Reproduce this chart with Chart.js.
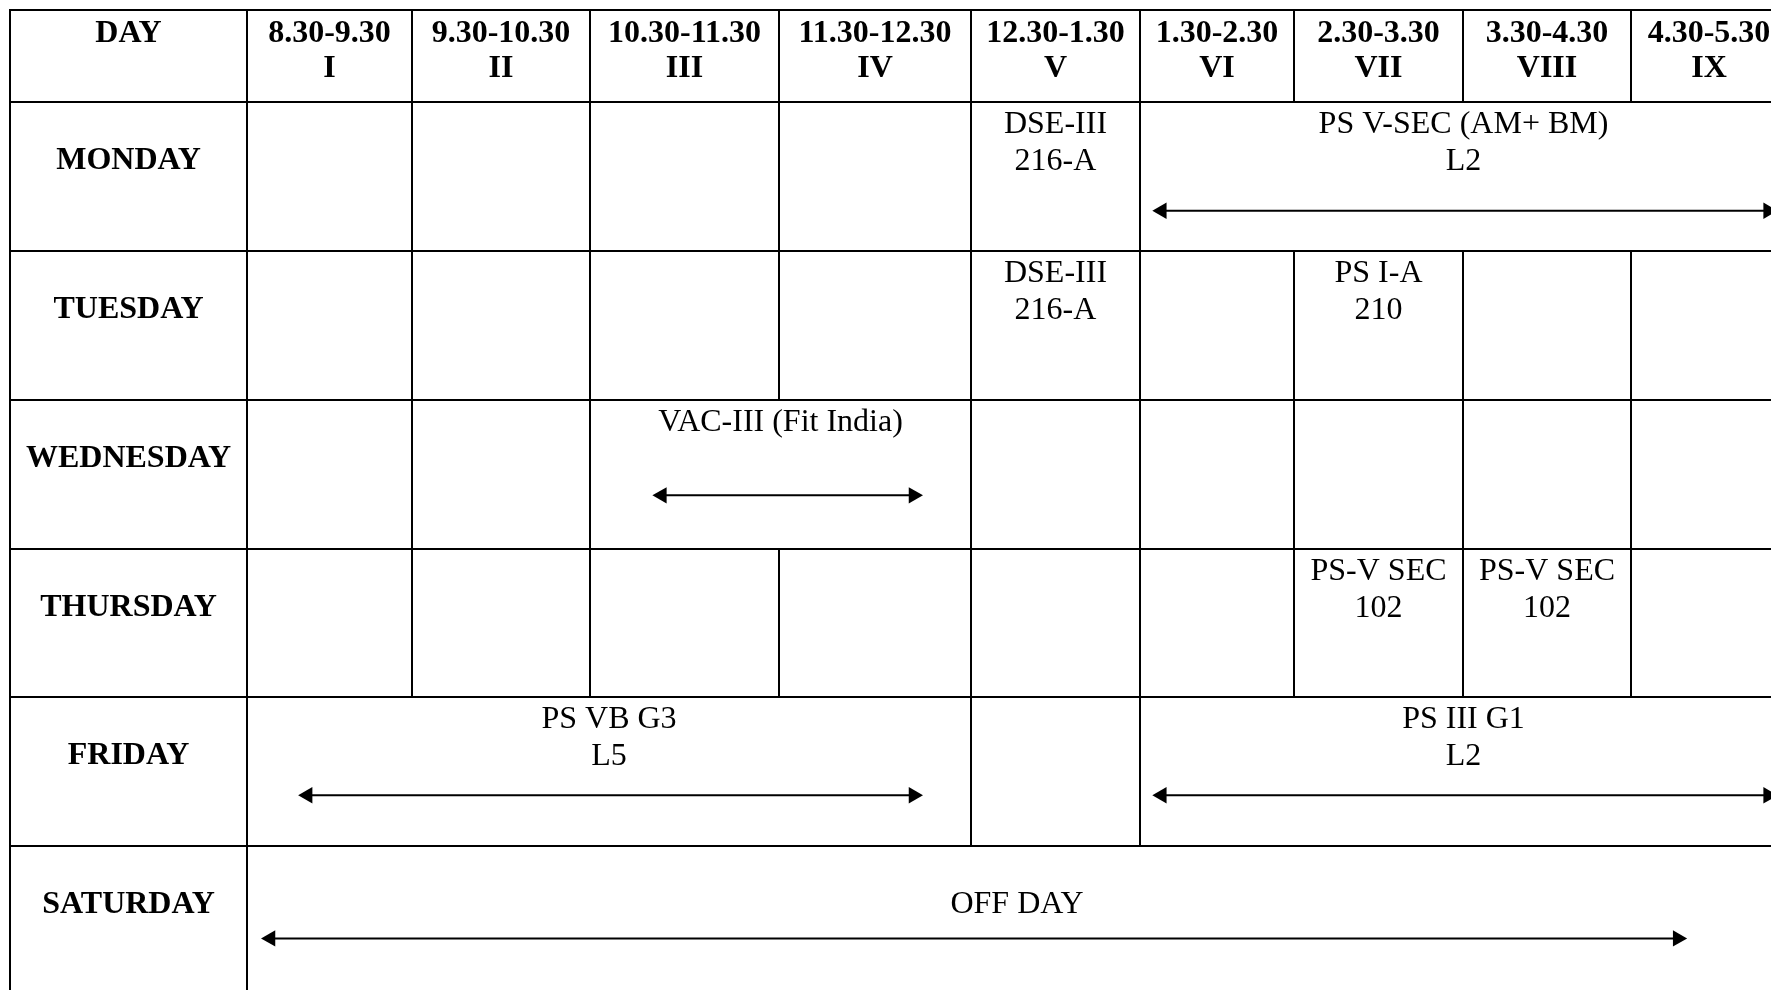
<!DOCTYPE html>
<html>
<head>
<meta charset="utf-8">
<title>Time Table</title>
<script src="https://cdn.jsdelivr.net/npm/chart.js@4.4.1/dist/chart.umd.min.js"></script>
<style>
    html, body { margin: 0; padding: 0; background: #fff; overflow: hidden; }
    #wrap { width: 1771px; height: 990px; }
</style>
</head>
<body>
<div id="wrap"><canvas id="timetable"></canvas></div>
<script>
// ---------- DATA ----------
const dayHeader = "DAY";
const days = ["MONDAY", "TUESDAY", "WEDNESDAY", "THURSDAY", "FRIDAY", "SATURDAY"];
const periodTimes = ["8.30-9.30", "9.30-10.30", "10.30-11.30", "11.30-12.30", "12.30-1.30",
                     "1.30-2.30", "2.30-3.30", "3.30-4.30", "4.30-5.30"];
const periodNumerals = ["I", "II", "III", "IV", "V", "VI", "VII", "VIII", "IX"];

// [day index, first period, last period, text lines]
const sessions = [
    [0, 5, 5, ["DSE-III", "216-A"]],
    [0, 6, 9, ["PS V-SEC (AM+ BM)", "L2"]],
    [1, 5, 5, ["DSE-III", "216-A"]],
    [1, 7, 7, ["PS I-A", "210"]],
    [2, 3, 4, ["VAC-III (Fit India)"]],
    [3, 7, 7, ["PS-V SEC", "102"]],
    [3, 8, 8, ["PS-V SEC", "102"]],
    [4, 1, 4, ["PS VB G3", "L5"]],
    [4, 6, 9, ["PS III G1", "L2"]],
    [5, 1, 9, ["OFF DAY"]]
];

// double arrows: [day index, from (period units), to (period units)]
const arrowSpans = [
    [0, 6.08, 9.94],
    [2, 3.33, 4.75],
    [4, 1.31, 4.75],
    [4, 6.08, 9.94],
    [5, 1.085, 9.36]
];

// ---------- LAYOUT ----------
const W = 1771, H = 990;
const colEdges = [10, 247, 412, 590, 779, 971, 1140, 1294, 1463, 1631, 1787];
const rowEdges = [10, 102, 251, 400, 549, 697, 846, 995];
const arrowRowPos = [0.73, 0.64, 0.66, 0.66, 0.62];   // fraction of the row height
const headBase = [32, 67];       // header baselines below row top
const cellBase = [31, 68];       // session baselines below row top
const labelBase = 67;            // day label baseline below row top
const headRadius = 9.5;
const FAMILY = "'Liberation Serif', 'Times New Roman', serif";
const BOLD = "bold 32px " + FAMILY;
const REGULAR = "32px " + FAMILY;

// ---------- HELPERS ----------
function periodX(v) {
    const i = Math.min(Math.floor(v), 9);
    return colEdges[i] + (v - i) * (colEdges[i + 1] - colEdges[i]);
}

function buildBorders() {
    const pts = [];
    const seg = (x1, y1, x2, y2) => pts.push({ x: x1, y: y1 }, { x: x2, y: y2 }, { x: x2, y: null });
    const top = rowEdges[0], bottom = rowEdges[rowEdges.length - 1];

    rowEdges.forEach(e => seg(colEdges[0], e, colEdges[10], e));
    seg(colEdges[0], top, colEdges[0], bottom);
    seg(colEdges[1], top, colEdges[1], bottom);
    seg(colEdges[10], top, colEdges[10], bottom);

    for (let r = 0; r <= days.length; r++) {
        const owner = new Array(11).fill(-1);
        if (r > 0) {
            sessions.forEach((s, k) => {
                if (s[0] !== r - 1) return;
                for (let p = s[1]; p <= s[2]; p++) owner[p] = k;
            });
        }
        for (let p = 1; p <= 8; p++) {
            if (owner[p] === -1 || owner[p] !== owner[p + 1]) {
                seg(colEdges[p + 1], rowEdges[r], colEdges[p + 1], rowEdges[r + 1]);
            }
        }
    }
    return pts;
}

function buildArrows() {
    return arrowSpans.map((a, i) => {
        const r = a[0] + 1;
        const y = rowEdges[r] + arrowRowPos[i] * (rowEdges[r + 1] - rowEdges[r]);
        return {
            data: [
                { x: periodX(a[1]) + headRadius, y },
                { x: periodX(a[2]) - headRadius, y }
            ],
            showLine: true,
            borderColor: "#000",
            borderWidth: 2,
            pointStyle: "triangle",
            pointRadius: headRadius,
            pointHoverRadius: headRadius,
            pointRotation: ctx => (ctx.dataIndex === 0 ? 270 : 90),
            pointBackgroundColor: "#000",
            pointBorderColor: "#000",
            pointBorderWidth: 0
        };
    });
}

// ---------- TEXT ----------
const tableText = {
    id: "tableText",
    afterDatasetsDraw(chart) {
        const { ctx, scales: { x, y } } = chart;
        const put = (t, xv, yv) => ctx.fillText(t, x.getPixelForValue(xv), y.getPixelForValue(yv));
        ctx.save();
        ctx.fillStyle = "#000";
        ctx.textAlign = "center";
        ctx.textBaseline = "alphabetic";

        // header row
        ctx.font = BOLD;
        put(dayHeader, (colEdges[0] + colEdges[1]) / 2, rowEdges[0] + headBase[0]);
        periodTimes.forEach((t, i) => {
            const cx = (colEdges[i + 1] + colEdges[i + 2]) / 2;
            put(t, cx, rowEdges[0] + headBase[0]);
            put(periodNumerals[i], cx, rowEdges[0] + headBase[1]);
        });

        // day labels
        days.forEach((d, i) => put(d, (colEdges[0] + colEdges[1]) / 2, rowEdges[i + 1] + labelBase));

        // sessions
        ctx.font = REGULAR;
        sessions.forEach(s => {
            const cx = (periodX(s[1]) + periodX(s[2] + 1)) / 2;
            const top = rowEdges[s[0] + 1];
            const wholeDay = s[1] === 1 && s[2] === 9;
            s[3].forEach((line, j) => {
                put(line, cx, top + (wholeDay ? labelBase : cellBase[j]));
            });
        });
        ctx.restore();
    }
};

// ---------- CHART ----------
new Chart(document.getElementById("timetable"), {
    type: "scatter",
    data: {
        datasets: [
            {
                data: buildBorders(),
                showLine: true,
                spanGaps: false,
                borderColor: "#000",
                borderWidth: 2,
                borderCapStyle: "square",
                pointRadius: 0,
                pointHoverRadius: 0
            },
            ...buildArrows()
        ]
    },
    options: {
        responsive: true,
        maintainAspectRatio: false,
        animation: false,
        events: [],
        layout: { padding: 0, autoPadding: false },
        plugins: { legend: { display: false }, tooltip: { enabled: false } },
        scales: {
            x: { type: "linear", min: 0, max: W, display: false },
            y: { type: "linear", min: 0, max: H, reverse: true, display: false }
        }
    },
    plugins: [tableText]
});
</script>
</body>
</html>
